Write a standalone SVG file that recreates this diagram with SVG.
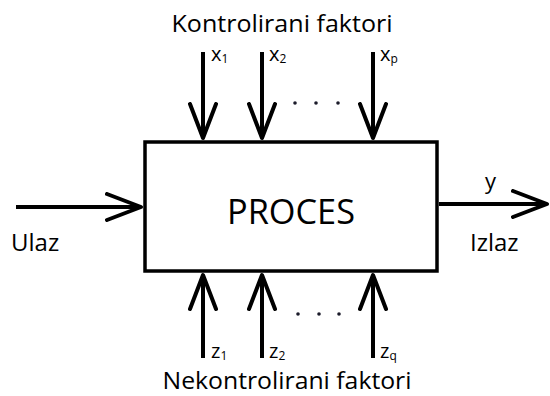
<svg xmlns="http://www.w3.org/2000/svg" width="550" height="396" viewBox="0 0 550 396">
<defs>
<style>
.t{font-family:"Open Sans","Liberation Sans",sans-serif;fill:#000}
.ln{stroke:#000;stroke-width:4;fill:none}
.dot{fill:#1b1b2a}
</style>
<marker id="ah" markerUnits="userSpaceOnUse" viewBox="-36 -15 40 30" refX="0" refY="0" markerWidth="40" markerHeight="30" orient="auto">
<path d="M-34,-13 L0,0 L-34,13" fill="none" stroke="#000" stroke-width="4" stroke-linejoin="round" stroke-linecap="round"/>
</marker>
</defs>
<rect width="550" height="396" fill="#fff"/>
<g id="proces">
<rect x="145" y="142" width="292" height="129" fill="#fff" stroke="#000" stroke-width="3.5"/>
<text class="t" x="291" y="224" font-size="35" text-anchor="middle" textLength="128" lengthAdjust="spacingAndGlyphs">PROCES</text>
</g>
<g id="connectors">
<line class="ln" x1="16" y1="207" x2="141" y2="207" marker-end="url(#ah)"/>
<line class="ln" x1="439" y1="204" x2="547" y2="204" marker-end="url(#ah)"/>
<line class="ln" x1="203" y1="52" x2="203" y2="138" marker-end="url(#ah)"/>
<line class="ln" x1="262" y1="52" x2="262" y2="138" marker-end="url(#ah)"/>
<line class="ln" x1="373" y1="52" x2="373" y2="138" marker-end="url(#ah)"/>
<line class="ln" x1="203" y1="358" x2="203" y2="275" marker-end="url(#ah)"/>
<line class="ln" x1="262" y1="358" x2="262" y2="275" marker-end="url(#ah)"/>
<line class="ln" x1="373" y1="358" x2="373" y2="275" marker-end="url(#ah)"/>
</g>
<g id="kontrolirani">
<text class="t" x="282" y="32" font-size="23" text-anchor="middle" textLength="221" lengthAdjust="spacingAndGlyphs">Kontrolirani faktori</text>
<text class="t" x="211" y="61" font-size="20">x<tspan font-size="12" dy="2">1</tspan></text>
<text class="t" x="269" y="61" font-size="20">x<tspan font-size="12" dy="2">2</tspan></text>
<text class="t" x="380" y="61" font-size="20">x<tspan font-size="12" dy="2">p</tspan></text>
<circle class="dot" cx="295" cy="103" r="1.8"/>
<circle class="dot" cx="316" cy="103" r="1.8"/>
<circle class="dot" cx="338" cy="103" r="1.8"/>
</g>
<g id="nekontrolirani">
<text class="t" x="287" y="389" font-size="23" text-anchor="middle" textLength="249" lengthAdjust="spacingAndGlyphs">Nekontrolirani faktori</text>
<text class="t" x="211" y="358" font-size="20">z<tspan font-size="12" dy="2">1</tspan></text>
<text class="t" x="269" y="358" font-size="20">z<tspan font-size="12" dy="2">2</tspan></text>
<text class="t" x="380" y="358" font-size="20">z<tspan font-size="12" dy="2">q</tspan></text>
<circle class="dot" cx="298" cy="314" r="1.8"/>
<circle class="dot" cx="319" cy="314" r="1.8"/>
<circle class="dot" cx="339" cy="314" r="1.8"/>
</g>
<g id="ulaz">
<text class="t" x="11" y="251" font-size="24">Ulaz</text>
</g>
<g id="izlaz">
<text class="t" x="485" y="189" font-size="22">y</text>
<text class="t" x="470" y="251" font-size="24">Izlaz</text>
</g>
</svg>
